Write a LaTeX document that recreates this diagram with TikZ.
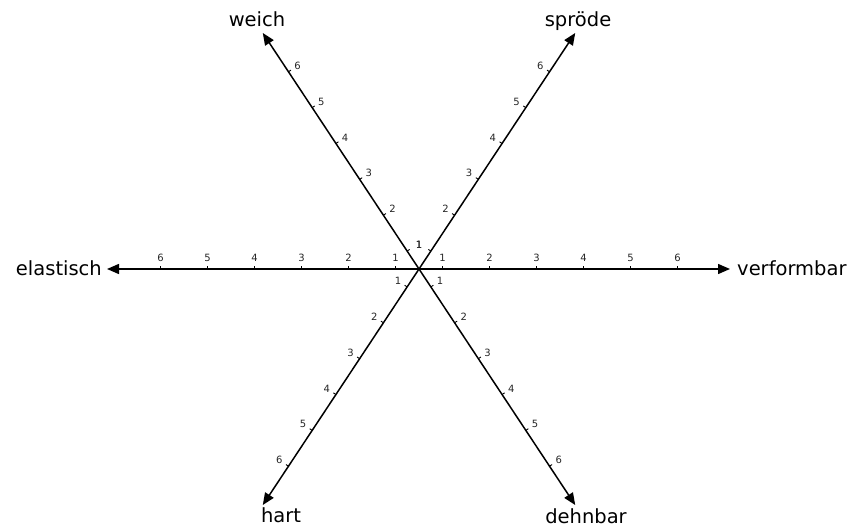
\documentclass[tikz,border=0pt]{standalone}
\usepackage{fontspec}
\setmainfont{DejaVu Sans}
\usetikzlibrary{arrows.meta}
\begin{document}
\begin{tikzpicture}[x=1pt,y=-1pt,
  axis/.style={line width=1.5pt,-{Triangle[length=12pt,width=10pt]}},
  tickmark/.style={line width=0.9pt},
  ticklabel/.style={font=\fontsize{10}{10}\selectfont, inner sep=0pt, text=black!85},
  axislabel/.style={font=\fontsize{19.5}{20}\selectfont, inner sep=0pt, anchor=base}]
\useasboundingbox (0,0) rectangle (859,526);
\coordinate (O) at (419,269);
\foreach \dx/\dy/\px/\py/\u/\L/\nm/\f in {
   1/0/0/-1/47/311/verformbar/0,
  -1/0/0/-1/47/312/elastisch/0,
   0.552/-0.834/-0.834/-0.552/43/283/sproede/1,
  -0.552/-0.834/0.834/-0.552/43/283/weich/1,
   0.552/0.834/0.834/-0.552/43/283/dehnbar/0,
  -0.552/0.834/-0.834/-0.552/43/283/hart/0}{
  \coordinate (tip-\nm) at ([shift={({\L*\dx},{\L*\dy})}]O);
  \draw[axis] (O) -- (tip-\nm);
  \foreach \k in {1,...,6}{
    \coordinate (t-\nm-\k) at ([shift={({(\k-0.5)*\u*\dx},{(\k-0.5)*\u*\dy})}]O);
    \draw[tickmark] (t-\nm-\k) -- ++({3*\px},{3*\py});
    \pgfmathtruncatemacro{\single}{(\k==1)&&(\f==1)}
    \ifnum\single=1
      \node[ticklabel] (l-\nm-\k) at ([shift={(0,-24)}]O) {\k};
    \else
      \node[ticklabel] (l-\nm-\k) at ([shift={({11*\px},{11*\py})}]t-\nm-\k) {\k};
    \fi
  }
}
\node[axislabel] (weich) at (257,27) {weich};
\node[axislabel] (sproede) at (578,27) {spröde};
\node[axislabel, anchor=base east] (elastisch) at (102,276) {elastisch};
\node[axislabel, anchor=base west] (verformbar) at (737,276) {verformbar};
\node[axislabel] (hart) at (281,522) {hart};
\node[axislabel] (dehnbar) at (586,523) {dehnbar};
\end{tikzpicture}
\end{document}
